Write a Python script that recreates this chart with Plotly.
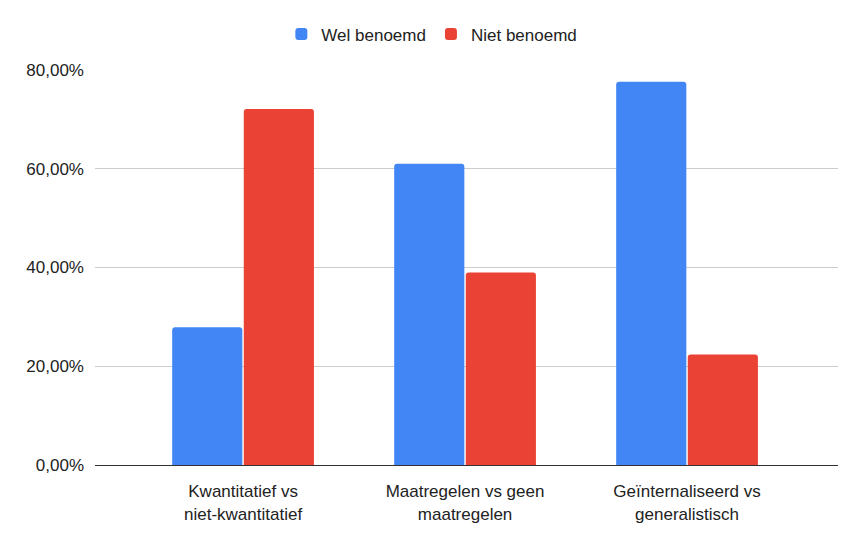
import plotly.graph_objects as go

categories = ["Kwantitatief vs<br>niet-kwantitatief",
              "Maatregelen vs geen<br>maatregelen",
              "Geïnternaliseerd vs<br>generalistisch"]
wel_benoemd = [27.9, 61.0, 77.6]
niet_benoemd = [72.1, 39.0, 22.4]
y_tick_vals = [0, 20, 40, 60, 80]
y_tick_text = ["0,00%", "20,00%", "40,00%", "60,00%", "80,00%"]

FONT = "Liberation Sans, Arial, sans-serif"

fig = go.Figure()
fig.add_trace(go.Bar(name="Wel benoemd", x=categories, y=wel_benoemd,
                     marker=dict(color="#4285F4", line=dict(width=0))))
fig.add_trace(go.Bar(name="Niet benoemd", x=categories, y=niet_benoemd,
                     marker=dict(color="#EA4335", line=dict(width=0))))

fig.update_layout(
    width=858, height=527,
    margin=dict(l=87, r=28, t=62, b=70, autoexpand=False),
    paper_bgcolor="white", plot_bgcolor="white",
    font=dict(family=FONT, size=17, color="#222222"),
    barmode="group", bargap=0.355, bargroupgap=0.02,
    barcornerradius=3,
    showlegend=True,
    legend=dict(orientation="h", xref="container", yref="container",
                x=0.494, xanchor="center", y=0.95, yanchor="middle",
                font=dict(size=17, color="#222222"),
                itemwidth=30, traceorder="normal"),
)
fig.update_xaxes(range=[-0.667, 2.68], showgrid=False, showline=True,
                 linecolor="#333333", linewidth=1, ticks="",
                 ticklabelstandoff=11, tickfont=dict(size=17, color="#222222"))
fig.update_yaxes(range=[0, 80], tickvals=y_tick_vals, ticktext=y_tick_text,
                 showgrid=True, gridcolor="#cccccc", gridwidth=1,
                 zeroline=False, showline=False, ticks="",
                 ticklabelstandoff=10, tickfont=dict(size=17, color="#222222"))

fig.write_html("out.html")
